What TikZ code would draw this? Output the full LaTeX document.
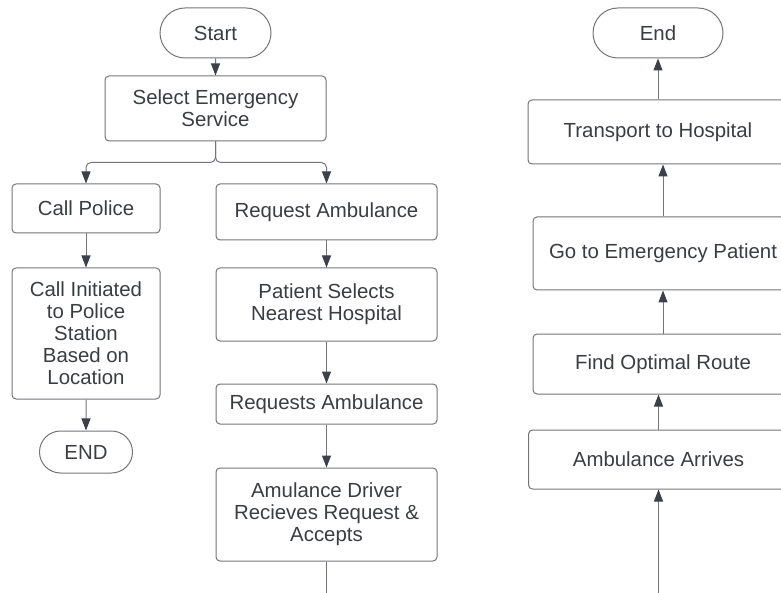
\documentclass[tikz,border=0pt]{standalone}
\usepackage{fontspec}
\setmainfont{Liberation Sans}
\usetikzlibrary{arrows.meta,shapes.misc}
\definecolor{linegray}{HTML}{72767B}
\definecolor{tipgray}{HTML}{3B414B}
\definecolor{textgray}{HTML}{3A3D42}
\begin{document}
\begin{tikzpicture}[x=1pt, y=-1pt, line width=1pt, draw=linegray,
main node/.style 2 args={rectangle,draw=linegray,rounded corners=4pt,align=center,inner sep=0pt,minimum width=#1,minimum height=#2},
term node/.style 2 args={rounded rectangle,draw=linegray,align=center,inner sep=0pt,minimum width=#1,minimum height=#2},
arrow/.style={-{Triangle[length=12pt,width=9pt,color=tipgray]}}]
\clip (0,0) rectangle (781,593);
\fill[white] (0,0) rectangle (781,593);
\begin{scope}[every node/.style={font=\fontsize{20.4}{22}\selectfont,text=textgray}]
\node[term node={111pt}{50pt}] (start) at (215.5,33) {Start};
\node[main node={221pt}{65pt}] (sel) at (215.5,108.5) {Select Emergency\\Service};
\node[main node={148pt}{49pt}] (police) at (86,208.5) {Call Police};
\node[main node={148pt}{131pt}] (init) at (86,333.5) {Call Initiated\\to Police\\Station\\Based on\\Location};
\node[term node={93pt}{42pt}] (polend) at (86,452) {END};
\node[main node={221pt}{56pt}] (reqamb) at (326.5,212) {Request Ambulance};
\node[main node={221pt}{73pt}] (patient) at (326.5,304.5) {Patient Selects\\Nearest Hospital};
\node[main node={221pt}{40pt}] (reqs) at (326.5,404) {Requests Ambulance};
\node[main node={221pt}{93pt}] (driver) at (326.5,514.5) {Amulance Driver\\Recieves Request \&\\Accepts};
\node[main node={260pt}{59pt}] (arrives) at (658.5,459.5) {Ambulance Arrives};
\node[main node={260pt}{60pt}] (route) at (663,364) {Find Optimal Route};
\node[main node={260pt}{73pt}] (goto) at (663,253.5) {Go to Emergency Patient};
\node[main node={260pt}{64pt}] (transport) at (658,132) {Transport to Hospital};
\node[term node={130pt}{50pt}] (end) at (658,33) {End};
\coordinate (cut1) at (326.5,600);
\coordinate (cut2) at (658.5,600);
%\node[main node={}{}] () at (,) {};
\end{scope}
\begin{scope}[rounded corners=5pt]
\draw[arrow] (start) -- (sel);
\draw[arrow] (sel.south) -- ++(0,21) -| (police.north);
\draw[arrow] (sel.south) -- ++(0,21) -| (reqamb.north);
\draw[arrow] (police) -- (init);
\draw[arrow] (init) -- (polend);
\draw[arrow] (reqamb) -- (patient);
\draw[arrow] (patient) -- (reqs);
\draw[arrow] (reqs) -- (driver);
\draw (driver.south) -- (cut1);
\draw[arrow] (cut2) -- (arrives.south);
\draw[arrow] (arrives.north) -- (arrives.north |- route.south);
\draw[arrow] (route.north) -- (route.north |- goto.south);
\draw[arrow] (goto.north) -- (goto.north |- transport.south);
\draw[arrow] (transport.north) -- (transport.north |- end.south);
%\draw[arrow] () -- ();
\end{scope}
\end{tikzpicture}
\end{document}
